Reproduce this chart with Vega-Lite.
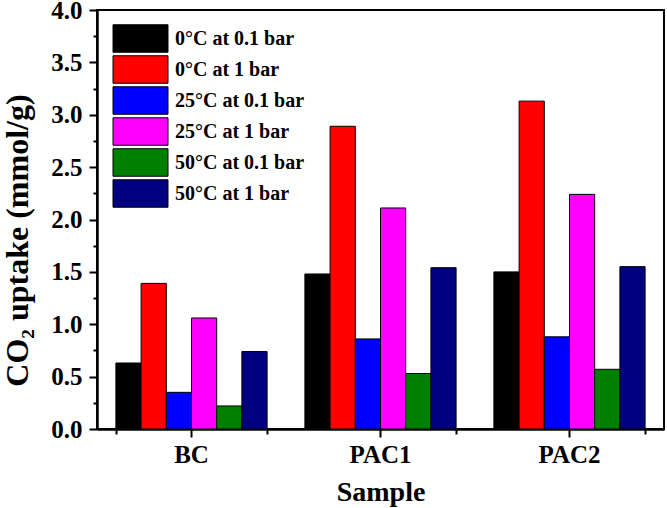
{
  "$schema": "https://vega.github.io/schema/vega-lite/v6.json",
  "width": 567,
  "height": 419,
  "autosize": "none",
  "padding": {"left": 97, "top": 10, "right": 3, "bottom": 79},
  "background": "white",
  "data": {
    "values": [
      {"Sample": "BC", "Condition": "0°C at 0.1 bar", "Uptake": 0.63},
      {"Sample": "BC", "Condition": "0°C at 1 bar", "Uptake": 1.39},
      {"Sample": "BC", "Condition": "25°C at 0.1 bar", "Uptake": 0.35},
      {"Sample": "BC", "Condition": "25°C at 1 bar", "Uptake": 1.06},
      {"Sample": "BC", "Condition": "50°C at 0.1 bar", "Uptake": 0.22},
      {"Sample": "BC", "Condition": "50°C at 1 bar", "Uptake": 0.74},
      {"Sample": "PAC1", "Condition": "0°C at 0.1 bar", "Uptake": 1.48},
      {"Sample": "PAC1", "Condition": "0°C at 1 bar", "Uptake": 2.89},
      {"Sample": "PAC1", "Condition": "25°C at 0.1 bar", "Uptake": 0.86},
      {"Sample": "PAC1", "Condition": "25°C at 1 bar", "Uptake": 2.11},
      {"Sample": "PAC1", "Condition": "50°C at 0.1 bar", "Uptake": 0.53},
      {"Sample": "PAC1", "Condition": "50°C at 1 bar", "Uptake": 1.54},
      {"Sample": "PAC2", "Condition": "0°C at 0.1 bar", "Uptake": 1.5},
      {"Sample": "PAC2", "Condition": "0°C at 1 bar", "Uptake": 3.13},
      {"Sample": "PAC2", "Condition": "25°C at 0.1 bar", "Uptake": 0.88},
      {"Sample": "PAC2", "Condition": "25°C at 1 bar", "Uptake": 2.24},
      {"Sample": "PAC2", "Condition": "50°C at 0.1 bar", "Uptake": 0.57},
      {"Sample": "PAC2", "Condition": "50°C at 1 bar", "Uptake": 1.55}
    ]
  },
  "layer": [
    {
      "mark": {"type": "bar", "stroke": "#000000", "strokeWidth": 1},
      "encoding": {
        "x": {
          "field": "Sample", "type": "nominal", "title": "Sample",
          "scale": {"paddingInner": 0.2, "paddingOuter": 0.1},
          "axis": {
            "labelAngle": 0, "tickSize": 8, "tickWidth": 2, "domainWidth": 2.5,
            "labelFontSize": 25, "labelPadding": 5, "titleFontSize": 28, "titlePadding": 11
          }
        },
        "xOffset": {
          "field": "Condition", "type": "nominal",
          "sort": ["0°C at 0.1 bar", "0°C at 1 bar", "25°C at 0.1 bar", "25°C at 1 bar", "50°C at 0.1 bar", "50°C at 1 bar"],
          "scale": {"paddingInner": 0, "paddingOuter": 0}
        },
        "y": {
          "field": "Uptake", "type": "quantitative", "title": "CO₂ uptake (mmol/g)",
          "scale": {"domain": [0, 4], "nice": false},
          "axis": {
            "values": [0, 0.5, 1, 1.5, 2, 2.5, 3, 3.5, 4], "format": ".1f", "grid": false,
            "tickSize": 8, "tickWidth": 2, "domainWidth": 2.5,
            "labelFontSize": 25, "labelPadding": 7, "titleFontSize": 32,
            "titleX": -80, "titleY": 230, "titleBaseline": "middle", "titleAlign": "center"
          }
        },
        "color": {
          "field": "Condition", "type": "nominal", "title": null,
          "sort": ["0°C at 0.1 bar", "0°C at 1 bar", "25°C at 0.1 bar", "25°C at 1 bar", "50°C at 0.1 bar", "50°C at 1 bar"],
          "scale": {"range": ["#000000", "#ff0000", "#0000ff", "#ff00ff", "#008000", "#000080"]},
          "legend": {
            "orient": "none", "legendX": 29, "legendY": 14,
            "symbolType": "M-2,-1H2V1H-2Z", "symbolSize": 756,
            "symbolStrokeColor": "#000000", "symbolStrokeWidth": 1, "symbolOpacity": 1,
            "labelFontSize": 20, "labelOffset": 20, "rowPadding": -2.5, "labelLimit": 300
          }
        }
      }
    },
    {
      "mark": {"type": "tick", "opacity": 0},
      "encoding": {
        "x": {
          "field": "Sample", "type": "nominal",
          "axis": {
            "orient": "bottom", "tickBand": "extent", "labels": false, "title": null,
            "domain": false, "tickSize": 5, "tickWidth": 2
          }
        },
        "y": {
          "field": "Uptake", "type": "quantitative",
          "axis": {
            "orient": "left", "values": [0.25, 0.75, 1.25, 1.75, 2.25, 2.75, 3.25, 3.75],
            "labels": false, "title": null, "domain": false, "grid": false,
            "tickSize": 4, "tickWidth": 2
          }
        }
      }
    }
  ],
  "resolve": {"axis": {"x": "independent", "y": "independent"}},
  "config": {
    "font": "Liberation Serif",
    "view": {"stroke": "#000000", "strokeWidth": 2},
    "axis": {
      "domainColor": "#000000", "tickColor": "#000000",
      "labelColor": "#000000", "titleColor": "#000000",
      "labelFontWeight": "bold", "titleFontWeight": "bold",
      "labelFont": "Liberation Serif", "titleFont": "Liberation Serif"
    },
    "legend": {"labelFont": "Liberation Serif", "labelFontWeight": "bold", "labelColor": "#000000"}
  }
}
